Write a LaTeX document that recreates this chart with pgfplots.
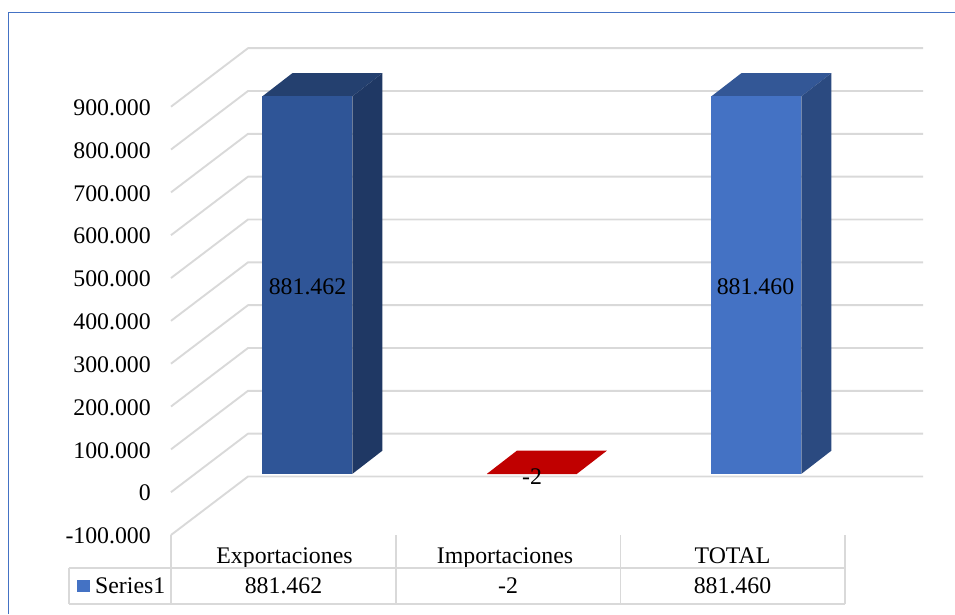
\documentclass[border=0pt]{standalone}
\usepackage{fontspec}
\setmainfont{Liberation Serif}
\usepackage{pgfplots}
\pgfplotsset{compat=1.18}
\definecolor{frame}{HTML}{4472C4}
\definecolor{gridc}{HTML}{D9D9D9}
\definecolor{expfront}{HTML}{2F5597}
\definecolor{expside}{HTML}{1F3864}
\definecolor{exptop}{HTML}{24406F}
\definecolor{totfront}{HTML}{4472C4}
\definecolor{totside}{HTML}{2B4A80}
\definecolor{tottop}{HTML}{335796}
\definecolor{impred}{HTML}{C00000}
\newcommand{\lbl}{\fontsize{23.8}{28}\selectfont}
\begin{document}
\begin{tikzpicture}
% page = reference pixels, 1px = 1pt, origin on the axis' lower left corner
\useasboundingbox (-171pt,-79pt) rectangle (784pt,535pt);
\begin{scope}[x=1pt,y=-1pt,shift={(-171pt,535pt)}]
  \draw[frame,line width=1.6pt] (8.7,614) -- (8.7,12.6) -- (955,12.6);
  % floor and walls
  \foreach \n in {0,...,10}
    \draw[gridc,line width=1.9pt,line join=bevel]
      (171,535-42.83*\n) -- (248,476.5-42.83*\n) -- (923,476.5-42.83*\n);
\end{scope}
\begin{axis}[
    at={(0pt,0pt)}, anchor=south west,
    scale only axis,
    width=752pt, height=428.3pt,
    xmin=-0.50111, xmax=2.8486,
    ymin=-100000, ymax=900000,
    scaled y ticks=false,
    clip=false,
    axis line style={draw=none},
    tick style={draw=none},
    major tick length=0pt,
    xtick={0,1,2},
    xticklabels={\hspace{2pt}Exportaciones,Importaciones\kern6pt,TOTAL},
    ytick={-100000,0,100000,200000,300000,400000,500000,600000,700000,800000,900000},
    yticklabels={-100.000,0,100.000,200.000,300.000,400.000,500.000,600.000,700.000,800.000,900.000},
    xticklabel style={font=\lbl,anchor=base,inner sep=0pt,yshift=-28pt},
    yticklabel style={font=\lbl,anchor=east,inner sep=0pt,xshift=-20pt,yshift=-1pt},
  ]
% Exportaciones
\addplot[fill=exptop,draw=none] coordinates {(-0.09354,924402) (0.30735,924402) (0.44098,978544) (0.04009,978544)} -- cycle;
\addplot[fill=expside,draw=none] coordinates {(0.30735,42940) (0.44098,97082) (0.44098,978544) (0.30735,924402)} -- cycle;
\addplot[ybar,bar width=90pt,bar shift=24pt,yshift=18.4pt,fill=expfront,draw=none] coordinates {(0,881462)};
% Importaciones
\addplot[fill=impred,draw=none] coordinates {(0.90646,42938) (1.30735,42938) (1.44098,97080) (1.04009,97080)} -- cycle;
\addplot[ybar,bar width=90pt,bar shift=24pt,yshift=18.4pt,fill=impred,draw=none] coordinates {(1,-2)};
% TOTAL
\addplot[fill=tottop,draw=none] coordinates {(1.90646,924400) (2.30735,924400) (2.44098,978542) (2.04009,978542)} -- cycle;
\addplot[fill=totside,draw=none] coordinates {(2.30735,42940) (2.44098,97082) (2.44098,978542) (2.30735,924400)} -- cycle;
\addplot[ybar,bar width=90pt,bar shift=24pt,yshift=18.4pt,fill=totfront,draw=none] coordinates {(2,881460)};
% value labels
\node[font=\lbl,inner sep=0pt] at (axis cs:0.1069,479000) {881.462};
\node[font=\lbl,inner sep=0pt] at (axis cs:1.1069,35400) {-2};
\node[font=\lbl,inner sep=0pt] at (axis cs:2.1025,479000) {881.460};
\end{axis}
\begin{scope}[x=1pt,y=-1pt,shift={(-171pt,535pt)}]
  % data table under the plot
  \draw[gridc,line width=1.9pt]
    (69,568) -- (845,568) (69,604) -- (845,604) (69,568) -- (69,604)
    (171,535) -- (171,604) (396,535) -- (396,604)
    (620.5,535) -- (620.5,604) (845,535) -- (845,604);
  \fill[frame] (77,580) rectangle (90,592);
  \node[font=\lbl,inner sep=0pt,anchor=base west] at (95,593.3) {Series1};
  \node[font=\lbl,inner sep=0pt,anchor=base] at (283.5,593.3) {881.462};
  \node[font=\lbl,inner sep=0pt,anchor=base] at (508,593.3) {-2};
  \node[font=\lbl,inner sep=0pt,anchor=base] at (732.5,593.3) {881.460};
\end{scope}
\end{tikzpicture}
\end{document}
